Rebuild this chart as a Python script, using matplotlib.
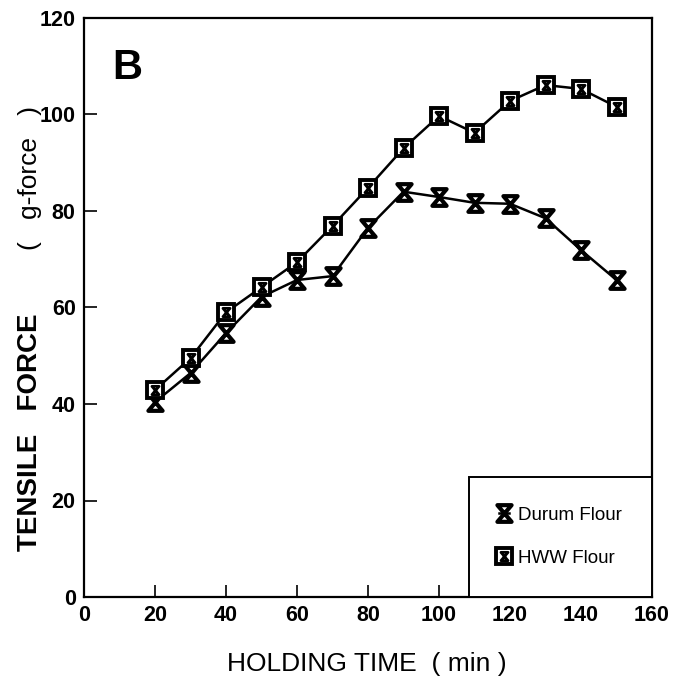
import matplotlib.pyplot as plt
from matplotlib.path import Path
from matplotlib.legend_handler import HandlerTuple

# dados
tempo = [20, 30, 40, 50, 60, 70, 80, 90, 100, 110, 120, 130, 140, 150]
durum = [40.4, 46.4, 54.7, 62.2, 65.7, 66.5, 76.5, 84.0, 82.9, 81.7, 81.5, 78.5, 71.9, 65.7]
hww = [42.9, 49.5, 59.0, 64.2, 69.4, 76.9, 84.8, 93.0, 99.7, 96.2, 102.8, 106.1, 105.3, 101.6]

xticks = [0, 20, 40, 60, 80, 100, 120, 140, 160]
yticks = [0, 20, 40, 60, 80, 100, 120]

# marcador em forma de ampulheta
ampulheta = Path([(-0.85, 1), (0.85, 1), (-0.85, -1), (0.85, -1), (-0.85, 1)],
                 [Path.MOVETO, Path.LINETO, Path.LINETO, Path.LINETO, Path.CLOSEPOLY])

fig = plt.figure(figsize=(6.74, 6.91), dpi=100)
ax = fig.add_axes([84 / 674, 94 / 691, 568 / 674, 579 / 691])

l1, = ax.plot(tempo, durum, color='black', lw=1.8, marker=ampulheta, ms=12,
              mfc='white', mec='black', mew=3)
l2, = ax.plot(tempo, hww, color='black', lw=1.8, marker='s', ms=12,
              mfc='white', mec='black', mew=2.8)
l3, = ax.plot(tempo, hww, ls='none', marker=ampulheta, ms=6,
              mfc='white', mec='black', mew=2)

ax.set_xlim(0, 160)
ax.set_ylim(0, 120)
ax.set_xticks(xticks)
ax.set_yticks(yticks)
ax.tick_params(direction='in', length=9, width=1.2, top=False, right=False, pad=6)
for lab in ax.get_xticklabels() + ax.get_yticklabels():
    lab.set_fontfamily('Liberation Sans')
    lab.set_fontsize(15.5)
    lab.set_fontweight('bold')
for s in ax.spines.values():
    s.set_linewidth(1.6)

ax.text(0.077, 0.914, 'B', transform=ax.transAxes, fontsize=30, fontweight='bold',
        family='Liberation Sans', ha='center', va='center')

leg = ax.legend([l1, (l2, l3)], ['Durum Flour', 'HWW Flour'],
                handler_map={tuple: HandlerTuple(ndivide=1)},
                loc='lower right', bbox_to_anchor=(1, 0), borderaxespad=0,
                fancybox=False, edgecolor='black', framealpha=1,
                handlelength=0.5, handletextpad=0.5, borderpad=1.6,
                labelspacing=1.4, prop={'family': 'Liberation Sans', 'size': 13.5})
leg.get_frame().set_linewidth(1.4)

fig.text(30 / 674, 1 - 432 / 691, 'TENSILE   FORCE', rotation=90, ha='center', va='center',
         fontsize=20, fontweight='bold', family='Liberation Sans')
fig.text(30 / 674, 1 - 178 / 691, '(   g-force   )', rotation=90, ha='center', va='center',
         fontsize=19, family='Liberation Sans')
fig.text(367 / 674, 1 - 664 / 691, 'HOLDING TIME  ( min )', ha='center', va='center',
         fontsize=19, family='Liberation Sans')

plt.savefig('out.png', dpi=100)
